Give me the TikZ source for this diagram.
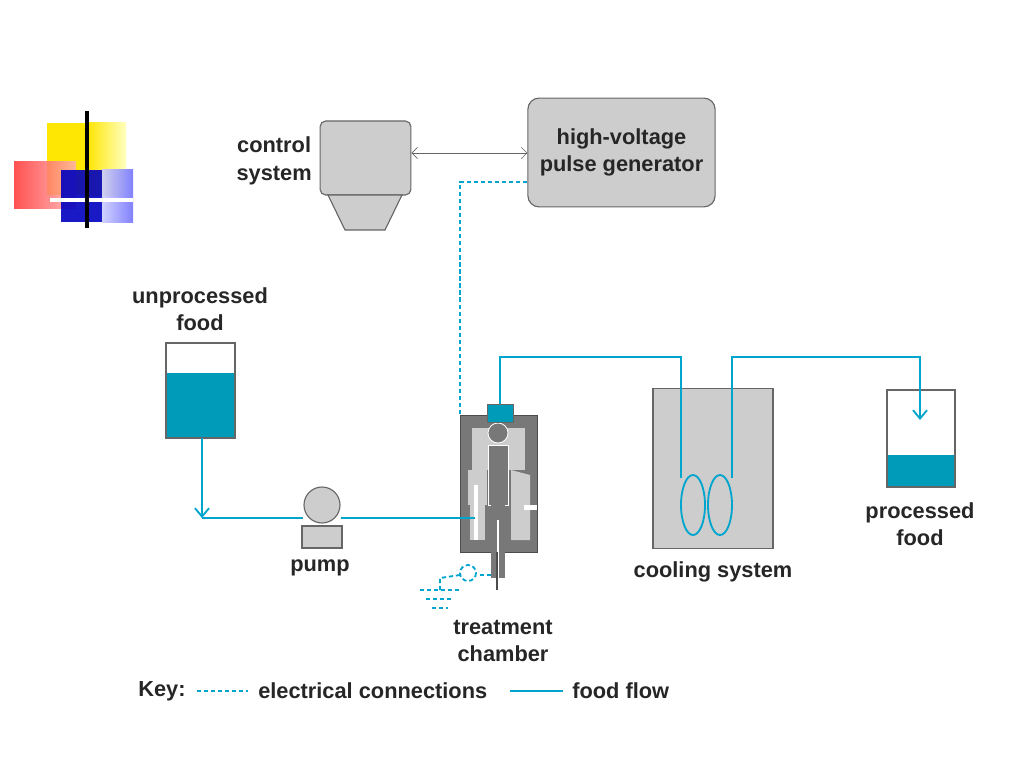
\documentclass[tikz,border=0pt]{standalone}
\usepackage{fontspec}
\setmainfont{Liberation Sans}
\usetikzlibrary{arrows.meta,shapes.geometric}
\definecolor{flow}{RGB}{0,165,205}
\definecolor{fluid}{RGB}{0,155,185}
\definecolor{unit}{RGB}{205,205,205}
\definecolor{chamber}{RGB}{120,120,120}
\tikzset{
  lbl/.style={font=\fontsize{15.5}{19.5}\selectfont\bfseries, text=black!85, align=center, inner sep=0pt},
  food/.style={flow, line width=1.3pt},
  elec/.style={flow, line width=1.3pt, dash pattern=on 3pt off 2pt},
  box/.style={draw=black!60, fill=unit, line width=0.8pt}
}
\begin{document}
\begin{tikzpicture}[x=0.025cm,y=-0.025cm]
      \useasboundingbox (0,0) rectangle (1024,768);

      % corner decoration
      \fill[yellow!90!orange] (47,123) rectangle (87,195);
      \shade[left color=yellow!80!orange, right color=yellow!25] (87,123) rectangle (126,195);
      \shade[left color=red!80, right color=red!30, opacity=0.85] (14,162) rectangle (76,208);
      \fill[blue!75!black, opacity=0.9] (61,170) rectangle (102,222);
      \shade[left color=blue!20, right color=blue!55, opacity=0.9] (102,170) rectangle (133,222);
      \fill[white] (50,198) rectangle (133,202);
      \draw[line width=2.5pt] (87,111) -- (87,228);

      % control system and generator
      \node[box, rounded corners=4pt, minimum width=2.27cm, minimum height=1.85cm] (ctrl) at (365.5,158) {};
      \fill[unit, draw=black!60, line width=0.8pt] (328,195) -- (402,195) -- (385,230) -- (345,230) -- cycle;
      \node[lbl, anchor=east] (ctrllbl) at (312,161) {control\\system};
      \node[box, rounded corners=8pt, minimum width=4.68cm, minimum height=2.72cm, lbl] (hv) at (621.5,152.5) {high-voltage\\pulse generator};
      \draw[black!60, {Straight Barb[length=4pt]}-{Straight Barb[length=4pt]}] (ctrl.east |- 0,153) -- (hv.west |- 0,153);

      % unprocessed food
      \node[lbl] (inlbl) at (200,309) {unprocessed\\food};
      \fill[fluid] (166,373) rectangle (235,438);
      \draw[black!60, line width=0.8pt] (166,343) rectangle (235,438);
      \coordinate (tankout) at (202,438);

      % pump
      \node[box, circle, minimum size=0.9cm] (pump) at (322,505) {};
      \draw[box] (302,526) rectangle (342,548);
      \node[lbl] (pumplbl) at (320,568) {pump};

      % treatment chamber
      \fill[chamber, draw=black!70] (460,415) rectangle (537,552);
      \fill[unit] (472,428) rectangle (525,470);
      \fill[unit] (468,470) -- (487,470) -- (487,505) -- (468,505) -- cycle;
      \fill[unit] (511,470) -- (530,475) -- (530,540) -- (511,540) -- cycle;
      \fill[unit] (470,505) rectangle (485,540);
      \fill[chamber, draw=white, line width=0.6pt] (498,433) circle (10);
      \fill[chamber, draw=white, line width=0.6pt] (488,445) rectangle (508,505);
      \fill[chamber] (491,505) rectangle (505,578);
      \draw[white, line width=0.8pt] (498,520) -- (498,578);
      \draw[black!70, line width=0.8pt] (497,552) -- (497,590);
      \fill[white] (474,485) rectangle (478,540);
      \fill[white] (524,505) rectangle (537,510);
      \node[draw=black!60, fill=fluid, minimum width=0.65cm, minimum height=0.45cm, inner sep=0pt] (inlet) at (500,413) {};
      \coordinate (feed) at (475,518);
      \node[lbl] (chlbl) at (503,641) {treatment\\chamber};

      % electrical connections
      \draw[elec] (hv.west |- 0,182) -- (460,182) -- (460,415);
      \draw[elec] (491,575) -- (477,575);
      \draw[elec] (468,573) circle (8);
      \draw[elec] (460,575) -- (440,578) -- (440,590);
      \draw[elec] (420,590) -- (460,590);
      \draw[elec] (426,599) -- (454,599);
      \draw[elec] (432,608) -- (448,608);

      % cooling system
      \node[box, minimum width=3cm, minimum height=3.98cm] (cool) at (713,468.5) {};
      \draw[food] (693,505) ellipse (12 and 30);
      \draw[food] (720,505) ellipse (12 and 30);
      \node[lbl] (coollbl) at (713,572) {cooling system};

      % processed food
      \fill[fluid] (887,455) rectangle (955,487);
      \draw[black!60, line width=0.8pt] (887,390) rectangle (955,487);
      \node[lbl] (outlbl) at (920,524) {processed\\food};

      % food flow
      \draw[food, -{Straight Barb[length=6pt,width=10pt]}] (tankout) -- (202,518);
      \draw[food] (202,518) -- (pump.west |- 0,518);
      \draw[food] (pump.east |- 0,518) -- (feed);
      \draw[food] (inlet.north) -- (500,357) -- (681,357) -- (681,478);
      \draw[food, -{Straight Barb[length=6pt,width=10pt]}] (732,478) -- (732,357) -- (920,357) -- (920,420);

      % key
      \node[lbl, anchor=west] (key) at (138,691) {Key:};
      \draw[elec] (197,691) -- (248,691);
      \node[lbl, anchor=west] (keyel) at (258,691) {electrical connections};
      \draw[food] (510,691) -- (563,691);
      \node[lbl, anchor=west] (keyff) at (572,691) {food flow};
    \end{tikzpicture}
\end{document}
